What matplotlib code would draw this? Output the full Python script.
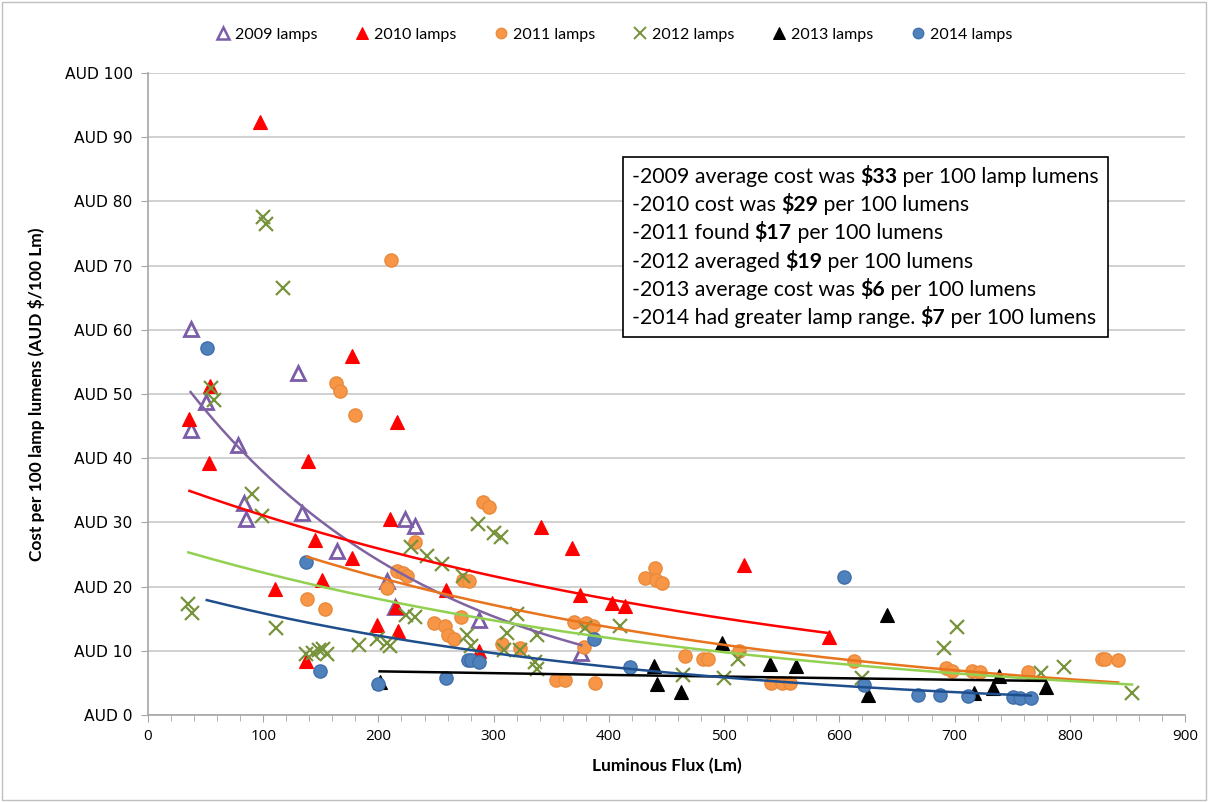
import numpy as np
import matplotlib
matplotlib.use("Agg")
import matplotlib.pyplot as plt
from matplotlib.lines import Line2D
from matplotlib.patches import Rectangle
from matplotlib.offsetbox import TextArea, HPacker, VPacker, AnchoredOffsetbox

# ---------------- data ----------------
x2009 = [37, 37, 50, 78, 83, 85, 130, 134, 164, 207, 214, 223, 232, 287, 376]
y2009 = [60.1, 44.4, 48.8, 42.1, 33.0, 30.5, 53.3, 31.4, 25.6, 20.9, 16.9, 30.6, 29.5, 14.8, 9.6]

x2010 = [36, 53, 54, 97, 110, 137, 139, 145, 151, 177, 177, 199, 210, 215, 216, 217,
         259, 287, 341, 368, 375, 403, 414, 517, 591]
y2010 = [46.1, 39.2, 51.2, 92.3, 19.7, 8.4, 39.5, 27.3, 21.0, 55.9, 24.4, 14.0, 30.5, 16.9, 45.7, 13.1,
         19.5, 9.9, 29.3, 26.0, 18.7, 17.5, 17.0, 23.4, 12.2]

x2011 = [138, 154, 163, 167, 180, 207, 211, 216, 221, 225, 232, 248, 258, 260, 266, 272, 273, 279,
         291, 296, 307, 323, 354, 362, 370, 378, 380, 386, 388, 431, 440, 441, 446, 466, 482, 486,
         513, 541, 550, 557, 613, 693, 698, 715, 722, 764, 828, 831, 842]
y2011 = [18.0, 16.5, 51.7, 50.4, 46.8, 19.8, 70.9, 22.5, 22.1, 21.7, 27.0, 14.4, 13.9, 12.5, 11.9, 15.2, 21.0, 20.8,
         33.1, 32.4, 11.0, 10.5, 5.5, 5.5, 14.5, 10.6, 14.3, 13.8, 5.0, 21.3, 22.9, 21.0, 20.5, 9.2, 8.8, 8.8,
         9.9, 5.0, 5.0, 5.0, 8.4, 7.3, 6.9, 6.8, 6.7, 6.7, 8.7, 8.7, 8.6]

x2012 = [35, 38, 55, 57, 90, 99, 100, 102, 111, 117, 137, 143, 148, 152, 155, 183, 199, 207, 210,
         224, 228, 232, 242, 255, 273, 277, 280, 286, 300, 306, 309, 312, 320, 323, 336, 338, 338,
         379, 410, 464, 500, 512, 620, 691, 702, 775, 795, 854]
y2012 = [17.3, 15.9, 51.0, 49.1, 34.4, 31.0, 77.6, 76.5, 13.6, 66.5, 9.5, 9.6, 10.1, 10.3, 9.5, 10.9, 11.9, 11.2, 10.7,
         15.6, 26.2, 15.2, 24.8, 23.5, 21.6, 12.5, 10.8, 29.8, 28.4, 27.8, 10.2, 12.8, 15.7, 10.1, 8.2, 7.2, 12.5,
         13.5, 13.8, 6.3, 5.7, 8.8, 5.7, 10.4, 13.7, 6.5, 7.5, 3.5]

x2013 = [201, 439, 442, 463, 498, 540, 562, 625, 641, 717, 733, 739, 779]
y2013 = [5.2, 7.7, 4.9, 3.6, 11.2, 7.9, 7.7, 3.1, 15.6, 3.4, 4.2, 6.0, 4.3]

x2014 = [51, 137, 149, 200, 259, 278, 280, 287, 387, 418, 604, 621, 668, 687, 712, 751, 757, 766]
y2014 = [57.2, 23.9, 6.9, 4.9, 5.8, 8.5, 8.5, 8.2, 11.8, 7.4, 21.5, 4.7, 3.1, 3.1, 3.0, 2.8, 2.6, 2.6]

series_names = ["2009 lamps", "2010 lamps", "2011 lamps", "2012 lamps", "2013 lamps", "2014 lamps"]

notes_plain = ["-2009 average cost was ", "-2010 cost was ", "-2011 found ", "-2012 averaged ",
               "-2013 average cost was ", "-2014 had greater lamp range. "]
notes_bold = ["$33", "$29", "$17", "$19", "$6", "$7"]
notes_tail = [" per 100 lamp lumens", " per 100 lumens", " per 100 lumens", " per 100 lumens",
              " per 100 lumens", " per 100 lumens"]

x_ticks = list(range(0, 901, 100))
y_ticks = list(range(0, 101, 10))

# ---------------- style ----------------
FONT = "Lato"
plt.rcParams["font.family"] = [FONT, "DejaVu Sans"]

fig = plt.figure(figsize=(12.08, 8.02), dpi=100)
W, H = 1208, 802
ax = fig.add_axes([148 / W, 1 - 715 / H, (1185 - 148) / W, (715 - 73) / H])

styles = [
    dict(x=x2009, y=y2009, marker="^", face="none", edge="#7A5CA8", ms=10.5, mew=2.0, line="#8064A2"),
    dict(x=x2010, y=y2010, marker="^", face="#FF0000", edge="#FF0000", ms=10, mew=0.8, line="#FF0000"),
    dict(x=x2011, y=y2011, marker="o", face="#F79646", edge="#E98A3A", ms=9.5, mew=1.0, line="#E8741E"),
    dict(x=x2012, y=y2012, marker="x", face="#77933C", edge="#77933C", ms=10, mew=1.6, line="#92D050"),
    dict(x=x2013, y=y2013, marker="^", face="#000000", edge="#000000", ms=10, mew=0.8, line="#000000"),
    dict(x=x2014, y=y2014, marker="o", face="#4F81BD", edge="#3F6FAA", ms=9.5, mew=1.0, line="#1F4E8C"),
]

handles = []
for name, st in zip(series_names, styles):
    xs = np.array(st["x"], float)
    ys = np.array(st["y"], float)
    ax.plot(xs, ys, linestyle="none", marker=st["marker"], markersize=st["ms"],
            markerfacecolor=st["face"], markeredgecolor=st["edge"], markeredgewidth=st["mew"],
            zorder=3)
    # exponential trendline (Excel style: least squares on ln y)
    b, lna = np.polyfit(xs, np.log(ys), 1)
    xx = np.linspace(xs.min(), xs.max(), 200)
    ax.plot(xx, np.exp(lna) * np.exp(b * xx), color=st["line"], lw=1.8, zorder=4)
    handles.append(Line2D([], [], linestyle="none", marker=st["marker"], markersize=st["ms"] * 0.8,
                          markerfacecolor=st["face"], markeredgecolor=st["edge"],
                          markeredgewidth=st["mew"] * 0.9, label=name))

ax.set_xlim(0, 900)
ax.set_ylim(0, 100)
ax.set_xticks(x_ticks)
ax.set_xticks(list(range(0, 901, 20)), minor=True)
ax.set_yticks(y_ticks)
ax.set_yticklabels([f"AUD {v}" for v in y_ticks])
ax.tick_params(axis="both", which="major", direction="out", length=5, color="#A6A6A6",
               labelsize=11, labelcolor="#000000")
ax.tick_params(axis="x", which="minor", direction="out", length=4, color="#A6A6A6")
ax.tick_params(axis="y", which="major", pad=6)
ax.tick_params(axis="x", which="major", pad=5)
for lab in ax.get_yticklabels():
    lab.set_family(["DejaVu Sans"])
    lab.set_fontsize(11.2)
for lab in ax.get_xticklabels():
    lab.set_family(["Open Sans", "DejaVu Sans"])
ax.grid(axis="y", color="#C8C8C8", lw=1.2, zorder=0)
ax.set_axisbelow(True)
for s in ["top", "right"]:
    ax.spines[s].set_visible(False)
for s in ["left", "bottom"]:
    ax.spines[s].set_color("#A6A6A6")
    ax.spines[s].set_linewidth(1.2)

ax.set_xlabel("Luminous Flux (Lm)", fontsize=12.5, fontweight="bold", labelpad=10)
ax.set_ylabel("Cost per 100 lamp lumens (AUD \\$/100 Lm)", fontsize=12.5, fontweight="bold", labelpad=14)

fig.legend(handles=handles, loc="center", bbox_to_anchor=(613 / W, 1 - 35 / H), ncol=6,
           frameon=False, fontsize=11.5, handletextpad=0.15, columnspacing=2.2, handlelength=1.2)

# annotation box
rows = []
for p, bld, t in zip(notes_plain, notes_bold, notes_tail):
    tp = dict(fontsize=15.3, color="black", family=[FONT, "DejaVu Sans"])
    rows.append(HPacker(children=[
        TextArea(p, textprops=tp),
        TextArea(bld.replace("$", "\\$"), textprops=dict(tp, fontweight="bold")),
        TextArea(t, textprops=tp)], align="baseline", pad=0, sep=0))
vbox = VPacker(children=rows, align="left", pad=0, sep=5.3)
abox = AnchoredOffsetbox(loc="upper left", child=vbox, pad=0.62, borderpad=0,
                         bbox_to_anchor=(623 / W, 1 - 157 / H), bbox_transform=fig.transFigure,
                         frameon=True)
abox.patch.set_edgecolor("black")
abox.patch.set_linewidth(1.2)
abox.patch.set_boxstyle("square", pad=0)
ax.add_artist(abox)

# outer chart border
fig.add_artist(Rectangle((2 / W, 2 / H), 1 - 4 / W, 1 - 4 / H, transform=fig.transFigure,
                         fill=False, edgecolor="#BFBFBF", lw=1.0))

fig.savefig("out.png", dpi=100)
